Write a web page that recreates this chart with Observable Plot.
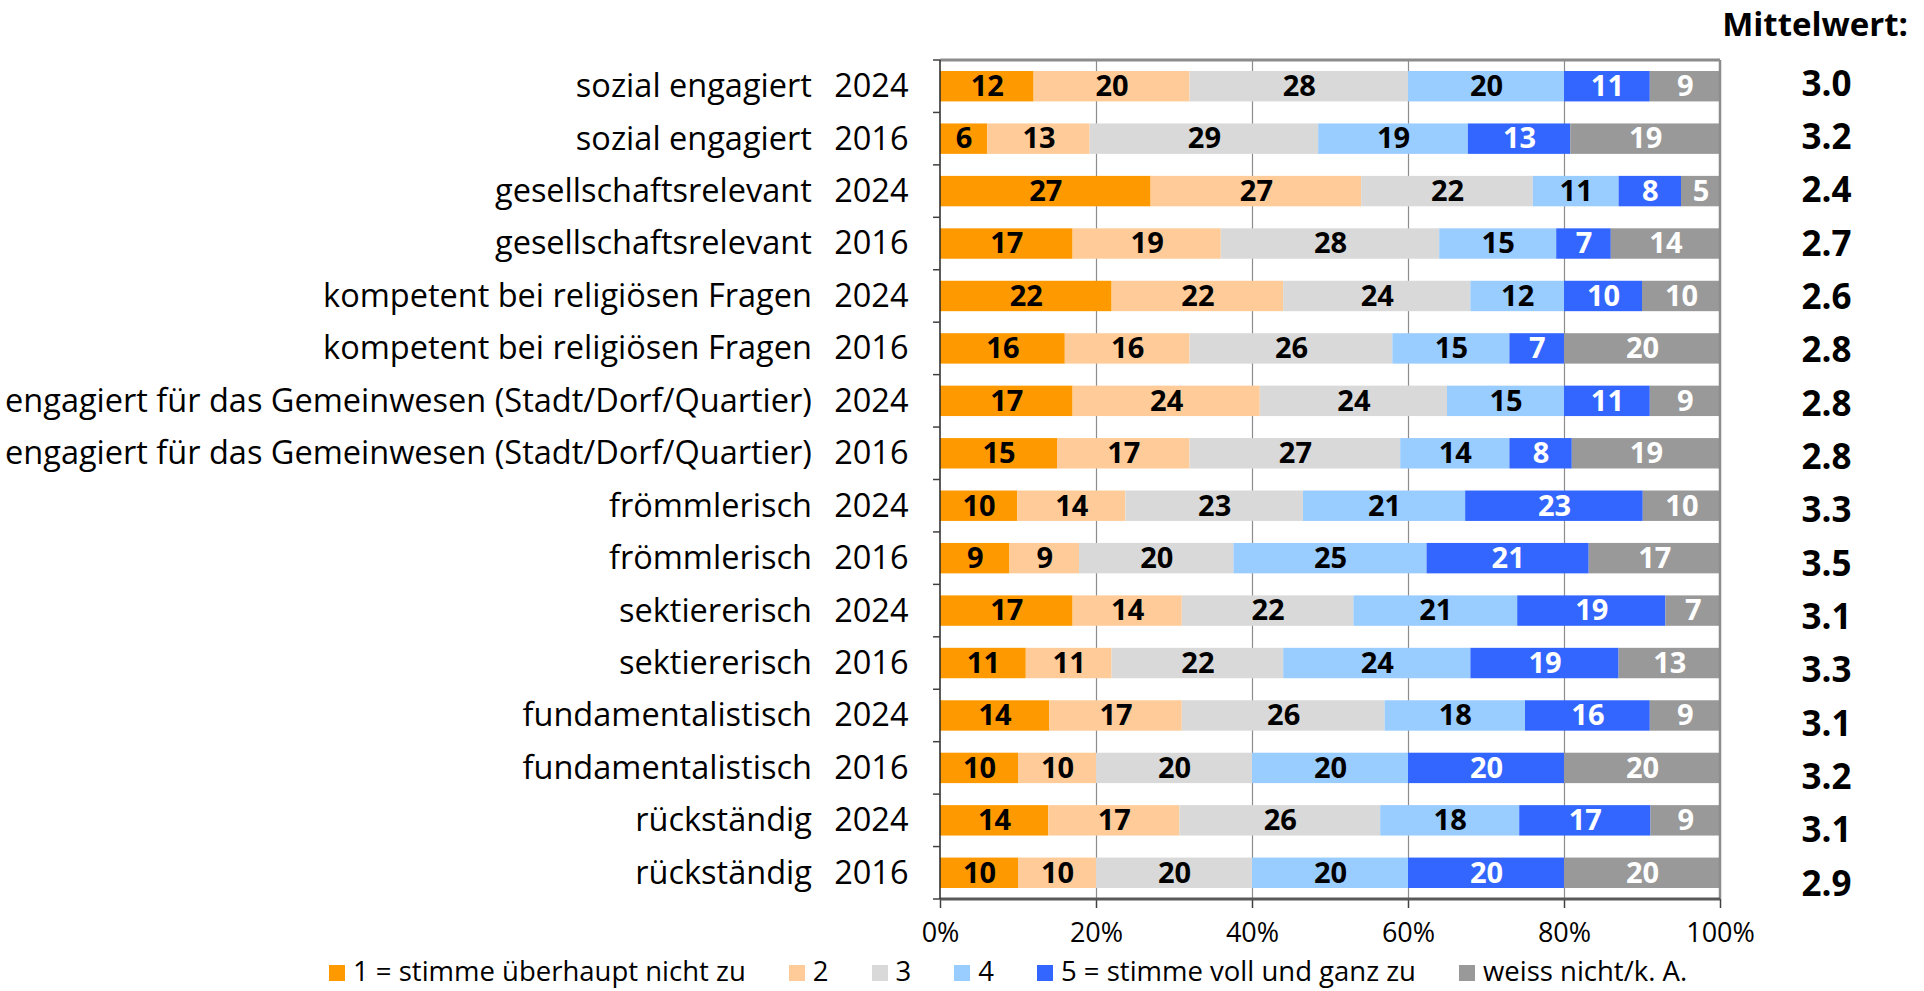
<!DOCTYPE html>
<html>
<head>
<meta charset="utf-8">
<script src="https://cdn.jsdelivr.net/npm/d3@7"></script>
<script src="https://cdn.jsdelivr.net/npm/@observablehq/plot@0.6"></script>
<style>
  body { margin: 0; background: #fff; font-family: "Open Sans", sans-serif; }
  #wrap { position: relative; width: 1924px; height: 991px; overflow: hidden; }
  #chart { position: absolute; left: 0; top: 0; }
  #means { position: absolute; left: 1727px; top: 0; width: 190px; }
  #means svg, #chart svg { max-width: none !important; }
  #head { position: absolute; right: 16px; top: 1px; font-weight: bold; font-size: 33px; color: #000; }
  #legend { position: absolute; top: 953px; left: 329px; display: flex; align-items: center; font-size: 27.5px; line-height: 36px; color: #000; white-space: nowrap; }
  #legend .item { display: flex; align-items: center; margin-right: 43px; }
  #legend .sw { width: 16px; height: 16px; margin-right: 8px; margin-top: 4px; }
  svg text { white-space: pre; }
</style>
</head>
<body>
<div id="wrap">
  <div id="chart"></div>
  <div id="means"></div>
  <div id="head">Mittelwert:</div>
  <div id="legend"></div>
</div>
<script>
const items = [
  "sozial engagiert", "sozial engagiert",
  "gesellschaftsrelevant", "gesellschaftsrelevant",
  "kompetent bei religiösen Fragen", "kompetent bei religiösen Fragen",
  "engagiert für das Gemeinwesen (Stadt/Dorf/Quartier)", "engagiert für das Gemeinwesen (Stadt/Dorf/Quartier)",
  "frömmlerisch", "frömmlerisch",
  "sektiererisch", "sektiererisch",
  "fundamentalistisch", "fundamentalistisch",
  "rückständig", "rückständig"
];
const years = [2024, 2016, 2024, 2016, 2024, 2016, 2024, 2016, 2024, 2016, 2024, 2016, 2024, 2016, 2024, 2016];
const categories = ["1 = stimme überhaupt nicht zu", "2", "3", "4", "5 = stimme voll und ganz zu", "weiss nicht/k. A."];
const colors = ["#FF9900", "#FFCC99", "#D9D9D9", "#99CCFF", "#3366FF", "#999999"];
const s1 = [12, 6, 27, 17, 22, 16, 17, 15, 10, 9, 17, 11, 14, 10, 14, 10];
const s2 = [20, 13, 27, 19, 22, 16, 24, 17, 14, 9, 14, 11, 17, 10, 17, 10];
const s3 = [28, 29, 22, 28, 24, 26, 24, 27, 23, 20, 22, 22, 26, 20, 26, 20];
const s4 = [20, 19, 11, 15, 12, 15, 15, 14, 21, 25, 21, 24, 18, 20, 18, 20];
const s5 = [11, 13, 8, 7, 10, 7, 11, 8, 23, 21, 19, 19, 16, 20, 17, 20];
const s6 = [9, 19, 5, 14, 10, 20, 9, 19, 10, 17, 7, 13, 9, 20, 9, 20];
const means = ["3.0", "3.2", "2.4", "2.7", "2.6", "2.8", "2.8", "2.8", "3.3", "3.5", "3.1", "3.3", "3.1", "3.2", "3.1", "2.9"];
const xTicks = [0, 0.2, 0.4, 0.6, 0.8, 1];

const series = [s1, s2, s3, s4, s5, s6];
const labels = items.map((d, i) => `${d}\u00a0\u00a0\u2009${years[i]}`);
const rows = [];
labels.forEach((lab, i) => {
  categories.forEach((c, j) => rows.push({label: lab, cat: c, ci: j, value: series[j][i]}));
});
const meanRows = labels.map((lab, i) => ({label: lab, mean: means[i]}));

const W = 1924, H = 952;
const ML = 940, MR = 204, MT = 60, MB = 53;
const FONT = '"Open Sans", sans-serif';

const stackOpts = (extra) => Plot.stackX({x: "value", y: "label", z: "cat", offset: "normalize", ...extra});

const chart = Plot.plot({
  width: W, height: H,
  marginLeft: ML, marginRight: MR, marginTop: MT, marginBottom: MB,
  style: {fontFamily: FONT, background: "transparent", color: "#000"},
  x: {domain: [0, 1], label: null},
  y: {domain: labels, paddingInner: 0.42, paddingOuter: 0.21, round: false, label: null},
  color: {domain: categories, range: colors},
  marks: [
    Plot.gridX(xTicks.slice(1, -1), {stroke: "#8c8c8c", strokeOpacity: 1, strokeWidth: 1.2}),
    Plot.barX(rows, stackOpts({fill: "cat"})),
    Plot.text(rows, stackOpts({text: d => d.ci >= 4 ? null : d.value, fill: "#000", fontWeight: "bold", fontSize: 29})),
    Plot.text(rows, stackOpts({text: d => d.ci >= 4 ? d.value : null, fill: "#fff", fontWeight: "bold", fontSize: 29})),
    Plot.axisX({ticks: xTicks, tickFormat: d3.format(".0%"), tickSize: 9, tickPadding: 14, fontSize: 27, stroke: "#404040", strokeWidth: 1.5, fill: "#000", label: null}),
    Plot.axisY({tickSize: 0, tickPadding: 32, fontSize: 32.5, fill: "#000", label: null}),
  ]
});

// frame lines and category separator ticks
const svg = d3.select(chart);
const yS = chart.scale("y");
const x0 = ML, x1 = W - MR, yTop = MT, yBot = H - MB;
const n = yS.domain.length;
const step = (yBot - yTop) / n;
const g = svg.append("g");
g.append("line").attr("x1", x0).attr("x2", x1).attr("y1", yTop).attr("y2", yTop).attr("stroke", "#8c8c8c").attr("stroke-width", 3);
g.append("line").attr("x1", x1).attr("x2", x1).attr("y1", yTop).attr("y2", yBot).attr("stroke", "#8c8c8c").attr("stroke-width", 2.5);
g.append("line").attr("x1", x0).attr("x2", x1).attr("y1", yBot).attr("y2", yBot).attr("stroke", "#595959").attr("stroke-width", 3);
g.append("line").attr("x1", x0).attr("x2", x0).attr("y1", yTop).attr("y2", yBot).attr("stroke", "#262626").attr("stroke-width", 1.5);
for (let i = 0; i <= n; i++) {
  const yy = yTop + i * step;
  g.append("line").attr("x1", x0 - 7).attr("x2", x0).attr("y1", yy).attr("y2", yy).attr("stroke", "#404040").attr("stroke-width", 1.5);
}
document.getElementById("chart").appendChild(chart);

// mean column
const meanPlot = Plot.plot({
  width: 190, height: H,
  marginLeft: 0, marginRight: 0, marginTop: 0, marginBottom: 0,
  style: {fontFamily: FONT, background: "transparent", color: "#000"},
  x: {axis: null},
  y: {type: "point", domain: labels, range: [84, 884], padding: 0, round: false, axis: null},
  marks: [
    Plot.text(meanRows, {y: "label", text: "mean", frameAnchor: "middle", dx: 4, fontWeight: "bold", fontSize: 35, fill: "#000"})
  ]
});
document.getElementById("means").appendChild(meanPlot);

const leg = document.getElementById("legend");
categories.forEach((c, i) => {
  const it = document.createElement("div");
  it.className = "item";
  const sw = document.createElement("span");
  sw.className = "sw";
  sw.style.background = colors[i];
  const t = document.createElement("span");
  t.textContent = c;
  it.appendChild(sw); it.appendChild(t);
  leg.appendChild(it);
});
</script>
</body>
</html>
